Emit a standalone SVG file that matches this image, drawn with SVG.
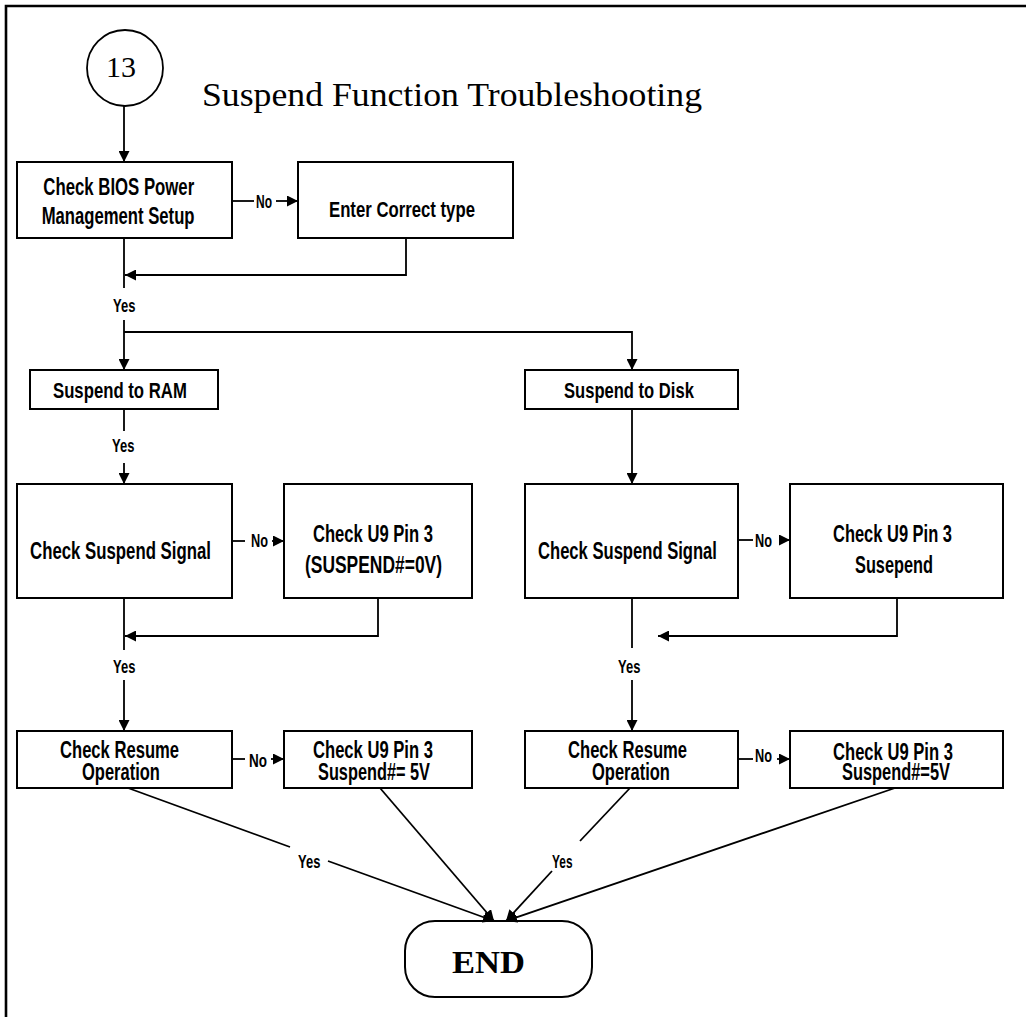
<svg xmlns="http://www.w3.org/2000/svg" width="1026" height="1017" viewBox="0 0 1026 1017">
<style>
.box{fill:#fff;stroke:#000;stroke-width:2}
.t{font-family:"Liberation Sans","Arial",sans-serif;font-weight:bold;fill:#000}
.lb{font-family:"Liberation Sans","Arial",sans-serif;font-weight:bold;font-size:18px;fill:#000}
.ln{fill:none;stroke:#000;stroke-width:1.8}
.ar{fill:none;stroke:#000;stroke-width:1.8;marker-end:url(#ah)}
.serif{font-family:"Liberation Serif","Times New Roman",serif;fill:#000}
</style>
<defs>
<marker id="ah" viewBox="0 0 10 10" refX="10" refY="5" markerWidth="11" markerHeight="11" markerUnits="userSpaceOnUse" orient="auto">
<path d="M0,0 L10,5 L0,10 z" fill="#000"/>
</marker>
</defs>
<rect width="1026" height="1017" fill="#fff"/>
<g id="frame">
<path d="M6,1017 V6 H1026" fill="none" stroke="#000" stroke-width="2.6"/>
</g>
<g id="title">
<text class="serif" x="202" y="106" font-size="33" textLength="500" lengthAdjust="spacingAndGlyphs">Suspend Function Troubleshooting</text>
</g>
<g id="start13">
<circle cx="125" cy="68" r="38" fill="#fff" stroke="#000" stroke-width="1.8"/>
<text class="serif" x="106" y="77" font-size="30">13</text>
</g>
<g id="bios">
<rect class="box" x="17" y="162" width="215" height="76"/>
<text class="t" font-size="24.5" transform="translate(43.3,195) scale(0.6845,1)">Check BIOS Power</text>
<text class="t" font-size="24.5" transform="translate(41.7,224) scale(0.681,1)">Management Setup</text>
</g>
<g id="enter">
<rect class="box" x="298" y="162" width="215" height="76"/>
<text class="t" font-size="22" transform="translate(329,217) scale(0.761,1)">Enter Correct type</text>
</g>
<g id="ram">
<rect class="box" x="30" y="370" width="188" height="39"/>
<text class="t" font-size="22" transform="translate(53,398) scale(0.761,1)">Suspend to RAM</text>
</g>
<g id="disk">
<rect class="box" x="525" y="370" width="213" height="39"/>
<text class="t" font-size="22" transform="translate(564,398) scale(0.754,1)">Suspend to Disk</text>
</g>
<g id="signalL">
<rect class="box" x="17" y="484" width="215" height="114"/>
<text class="t" font-size="24" transform="translate(30,559) scale(0.70,1)">Check Suspend Signal</text>
</g>
<g id="u9L">
<rect class="box" x="284" y="484" width="188" height="114"/>
<text class="t" font-size="23" transform="translate(313,542) scale(0.722,1)">Check U9 Pin 3</text>
<text class="t" font-size="23" transform="translate(305,573) scale(0.758,1)">(SUSPEND#=0V)</text>
</g>
<g id="signalR">
<rect class="box" x="525" y="484" width="213" height="114"/>
<text class="t" font-size="24" transform="translate(538,559) scale(0.692,1)">Check Suspend Signal</text>
</g>
<g id="u9R">
<rect class="box" x="790" y="484" width="213" height="114"/>
<text class="t" font-size="23" transform="translate(833,542) scale(0.716,1)">Check U9 Pin 3</text>
<text class="t" font-size="23" transform="translate(855,573) scale(0.71,1)">Susepend</text>
</g>
<g id="resumeL">
<rect class="box" x="17" y="731" width="215" height="57"/>
<text class="t" font-size="24" transform="translate(60,758) scale(0.692,1)">Check Resume</text>
<text class="t" font-size="24" transform="translate(82,780) scale(0.688,1)">Operation</text>
</g>
<g id="u9bL">
<rect class="box" x="284" y="731" width="188" height="57"/>
<text class="t" font-size="24" transform="translate(313,758) scale(0.692,1)">Check U9 Pin 3</text>
<text class="t" font-size="24" transform="translate(318,780) scale(0.68,1)">Suspend#= 5V</text>
</g>
<g id="resumeR">
<rect class="box" x="525" y="731" width="213" height="57"/>
<text class="t" font-size="24" transform="translate(568,758) scale(0.692,1)">Check Resume</text>
<text class="t" font-size="24" transform="translate(592,780) scale(0.688,1)">Operation</text>
</g>
<g id="u9bR">
<rect class="box" x="790" y="731" width="213" height="57"/>
<text class="t" font-size="24" transform="translate(833,760) scale(0.692,1)">Check U9 Pin 3</text>
<text class="t" font-size="24" transform="translate(842,780) scale(0.683,1)">Suspend#=5V</text>
</g>
<g id="end">
<rect class="box" x="405" y="921" width="187" height="76" rx="30" ry="30"/>
<text class="serif" x="452" y="973" font-size="32" font-weight="bold" textLength="73" lengthAdjust="spacingAndGlyphs">END</text>
</g>
<g id="connectors">
<path class="ar" d="M124,106 V162"/>
<path class="ln" d="M232,201 H254"/>
<text class="lb" transform="translate(256,208) scale(0.667,1)">No</text>
<path class="ar" d="M276,201 H298"/>
<path class="ar" d="M406,238 V275 H125"/>
<path class="ln" d="M124,238 V288"/>
<text class="lb" transform="translate(113,311.5) scale(0.72,1)">Yes</text>
<path class="ar" d="M124,320 V370"/>
<path class="ar" d="M124,332 H632 V370"/>
<path class="ln" d="M124,409 V431"/>
<text class="lb" transform="translate(112,452) scale(0.72,1)">Yes</text>
<path class="ar" d="M124,463 V484"/>
<path class="ar" d="M632,409 V484"/>
<path class="ln" d="M232,541 H245"/>
<text class="lb" transform="translate(251,547) scale(0.708,1)">No</text>
<path class="ar" d="M272,541 H284"/>
<path class="ar" d="M378,598 V636 H125"/>
<path class="ln" d="M124,598 V650"/>
<text class="lb" transform="translate(113,673) scale(0.72,1)">Yes</text>
<path class="ar" d="M124,680 V731"/>
<path class="ln" d="M738,540 H753"/>
<text class="lb" transform="translate(755,547) scale(0.708,1)">No</text>
<path class="ar" d="M779,540 H790"/>
<path class="ar" d="M897,598 V636 H658"/>
<path class="ln" d="M632,598 V648"/>
<text class="lb" transform="translate(618,673) scale(0.72,1)">Yes</text>
<path class="ar" d="M632,680 V731"/>
<path class="ln" d="M232,759 H245"/>
<text class="lb" transform="translate(249,767) scale(0.75,1)">No</text>
<path class="ar" d="M271,759 H284"/>
<path class="ln" d="M738,759 H753"/>
<text class="lb" transform="translate(755,762) scale(0.708,1)">No</text>
<path class="ar" d="M777,759 H790"/>
<path class="ln" d="M128,788 L290,847"/>
<text class="lb" transform="translate(298,868) scale(0.72,1)">Yes</text>
<path class="ar" d="M328,861 L494,921"/>
<path class="ar" d="M380,788 L494,921"/>
<path class="ln" d="M630,788 L580,841"/>
<text class="lb" transform="translate(552,868) scale(0.66,1)">Yes</text>
<path class="ar" d="M552,871 L506,921"/>
<path class="ar" d="M895,788 L506,921"/>
</g>
</svg>
